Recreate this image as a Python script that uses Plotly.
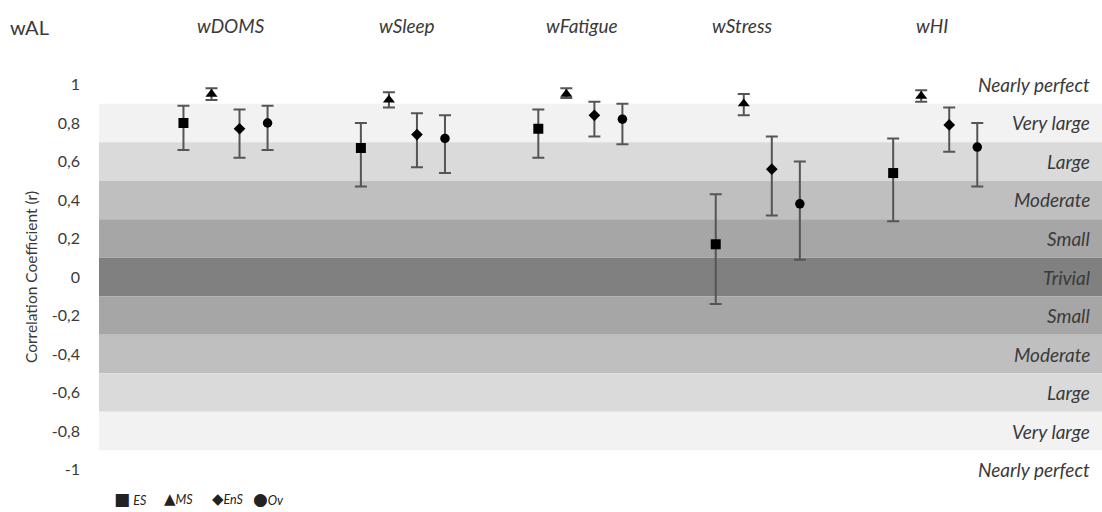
import plotly.graph_objects as go

# ---------------- data ----------------
groups = ["wDOMS", "wSleep", "wFatigue", "wStress", "wHI"]
series = ["ES", "MS", "EnS", "Ov"]

ES_r = [0.80, 0.67, 0.77, 0.17, 0.54]
ES_lo = [0.66, 0.47, 0.62, -0.14, 0.29]
ES_hi = [0.89, 0.80, 0.87, 0.43, 0.72]

MS_r = [0.95, 0.92, 0.95, 0.90, 0.94]
MS_lo = [0.92, 0.88, 0.93, 0.84, 0.91]
MS_hi = [0.98, 0.96, 0.98, 0.95, 0.97]

EnS_r = [0.77, 0.74, 0.84, 0.56, 0.79]
EnS_lo = [0.62, 0.57, 0.73, 0.32, 0.65]
EnS_hi = [0.87, 0.85, 0.91, 0.73, 0.88]

Ov_r = [0.80, 0.72, 0.82, 0.38, 0.675]
Ov_lo = [0.66, 0.54, 0.69, 0.09, 0.47]
Ov_hi = [0.89, 0.84, 0.90, 0.60, 0.80]

tick_vals = [1, 0.8, 0.6, 0.4, 0.2, 0, -0.2, -0.4, -0.6, -0.8, -1]
tick_text = ["1", "0,8", "0,6", "0,4", "0,2", "0", "-0,2", "-0,4", "-0,6", "-0,8", "-1"]

band_labels = ["Nearly perfect", "Very large", "Large", "Moderate", "Small", "Trivial",
               "Small", "Moderate", "Large", "Very large", "Nearly perfect"]
band_edges = [0.9, 0.7, 0.5, 0.3, 0.1, -0.1, -0.3, -0.5, -0.7, -0.9]
band_colors = ["#f2f2f2", "#dadada", "#bfbfbf", "#a6a6a6", "#808080",
               "#a6a6a6", "#bfbfbf", "#dadada", "#f2f2f2"]

legend_symbols = ["\u25A0", "\u25B2", "\u25C6", "\u25CF"]

# layout positions (paper fractions)
header_x = [0.132, 0.307, 0.482, 0.642, 0.831]
legend_x = [0.0135, 0.0635, 0.1115, 0.1525]
legend_sym_size = [17, 15, 15, 17]
legend_sep = [" ", "", "", ""]

FONT = "Lato"
DARK = "#3a3a3a"

fig = go.Figure()

specs = [
    (ES_r, ES_lo, ES_hi, "square", 10),
    (MS_r, MS_lo, MS_hi, "triangle-up", 10.5),
    (EnS_r, EnS_lo, EnS_hi, "diamond", 9),
    (Ov_r, Ov_lo, Ov_hi, "circle", 9.5),
]
for name, (r, lo, hi, sym, sz) in zip(series, specs):
    fig.add_trace(go.Scatter(
        x=groups, y=r, name=name, mode="markers", showlegend=False,
        marker=dict(symbol=sym, size=sz, color="black"),
        error_y=dict(type="data", symmetric=False,
                     array=[h - v for h, v in zip(hi, r)],
                     arrayminus=[v - l for v, l in zip(r, lo)],
                     color="#555555", thickness=2, width=6),
    ))

shapes = []
for i, c in enumerate(band_colors):
    shapes.append(dict(type="rect", xref="paper", yref="y", x0=0, x1=1,
                       y0=band_edges[i + 1], y1=band_edges[i],
                       fillcolor=c, line=dict(width=0), layer="below"))

annotations = []
for v, t in zip(tick_vals, band_labels):
    annotations.append(dict(x=0.99, xref="paper", y=v, yref="y", text=f"<i>{t}</i>",
                            showarrow=False, xanchor="right", yanchor="middle",
                            font=dict(family=FONT, size=19, color=DARK)))
for hx, g in zip(header_x, groups):
    annotations.append(dict(x=hx, xref="paper", y=1.083, yref="paper", text=f"<i>{g}</i>",
                            showarrow=False, xanchor="center", yanchor="middle",
                            font=dict(family=FONT, size=19, color=DARK)))
annotations.append(dict(x=-0.091, xref="paper", y=1.078, yref="paper", text="wAL",
                        showarrow=False, xanchor="left", yanchor="middle",
                        font=dict(family=FONT, size=20, color=DARK)))
# legend entries
for lx, sym, ss, sep, name in zip(legend_x, legend_symbols, legend_sym_size, legend_sep, series):
    annotations.append(dict(x=lx, xref="paper", y=-0.013, yref="paper",
                            text=(f"<span style='font-family:DejaVu Sans;font-size:{ss}px'>{sym}</span>"
                                  f"{sep}<i>{name}</i>"),
                            showarrow=False, xanchor="left", yanchor="middle", borderpad=0,
                            font=dict(family=FONT, size=12.5, color="#222222")))

fig.update_layout(
    width=1102, height=512,
    margin=dict(l=99, r=0, t=61, b=19),
    plot_bgcolor="white", paper_bgcolor="white",
    scattermode="group", scattergap=0.368,
    font=dict(family=FONT, color=DARK),
    shapes=shapes, annotations=annotations,
    showlegend=False,
    xaxis=dict(type="category", range=[-0.713, 4.94], showticklabels=False,
               showgrid=False, zeroline=False, showline=False, ticks=""),
    yaxis=dict(range=[-1.122, 1.122], tickmode="array", tickvals=tick_vals, ticktext=tick_text,
               showgrid=False, zeroline=False, showline=False, ticks="",
               ticklabelstandoff=18,
               tickfont=dict(family=FONT, size=16, color=DARK),
               title=dict(text="Correlation Coefficient (r)", standoff=10,
                          font=dict(family=FONT, size=15.5, color=DARK))),
)

fig.write_html("out.html")
